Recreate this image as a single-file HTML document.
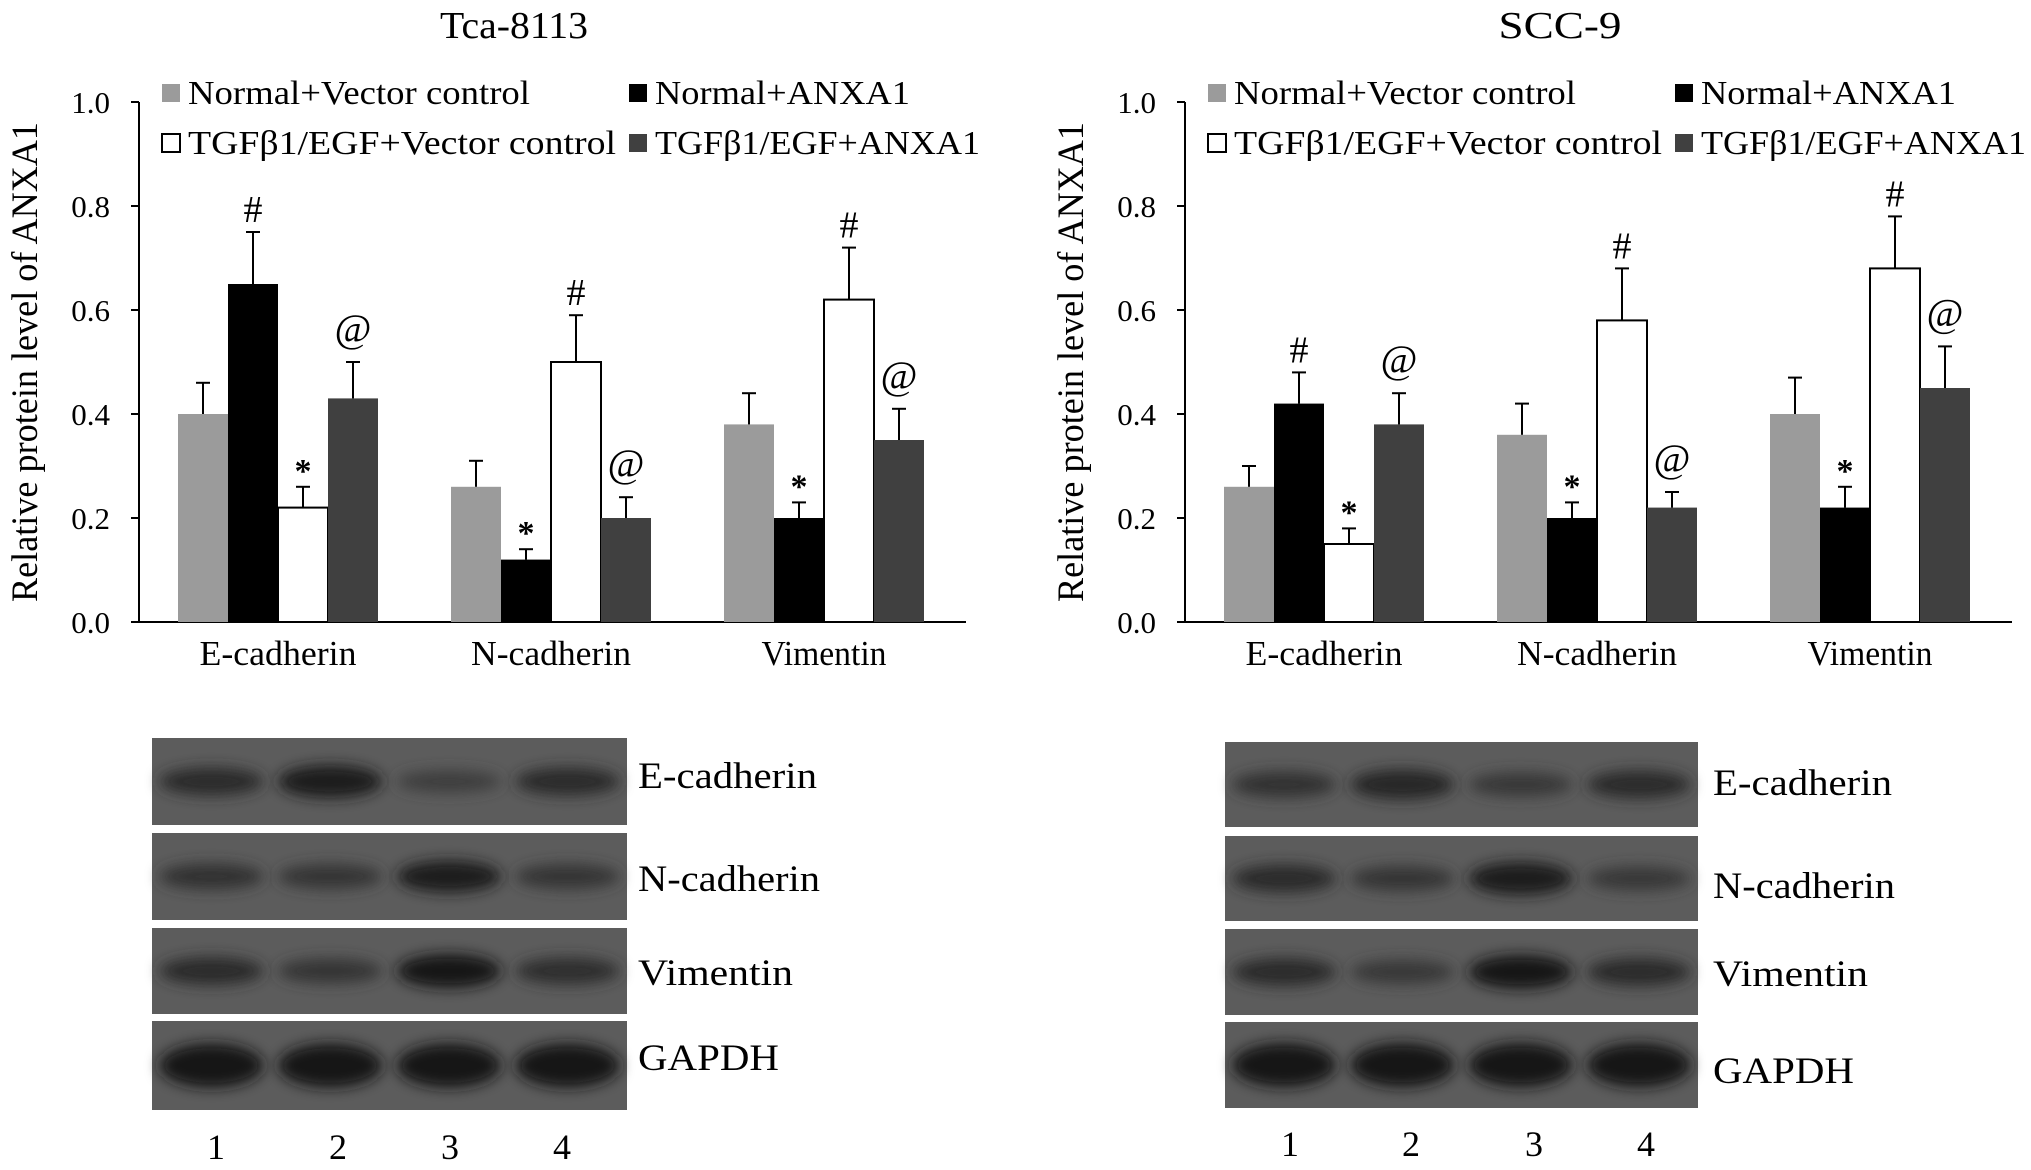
<!DOCTYPE html>
<html><head><meta charset="utf-8">
<style>
html,body{margin:0;padding:0;background:#fff;}
svg{display:block;font-family:"Liberation Serif","Times New Roman",serif;}
</style></head>
<body>
<svg id="fig" width="2031" height="1170" viewBox="0 0 2031 1170" xmlns="http://www.w3.org/2000/svg">
<defs>
<filter id="blur" x="-30%" y="-80%" width="160%" height="260%"><feGaussianBlur stdDeviation="7"/></filter>
</defs>
</svg>
<script>
const categories = ["E-cadherin","N-cadherin","Vimentin"];
const seriesNames = ["Normal+Vector control","Normal+ANXA1","TGFβ1/EGF+Vector control","TGFβ1/EGF+ANXA1"];
const tickLabels = ["0.0","0.2","0.4","0.6","0.8","1.0"];
const tickValues = [0,0.2,0.4,0.6,0.8,1.0];
// Tca-8113 values [category][series]
const tcaValues = [[0.40,0.65,0.22,0.43],[0.26,0.12,0.50,0.20],[0.38,0.20,0.62,0.35]];
const tcaErrors = [[0.06,0.10,0.04,0.07],[0.05,0.02,0.09,0.04],[0.06,0.03,0.10,0.06]];
// SCC-9 values
const sccValues = [[0.26,0.42,0.15,0.38],[0.36,0.20,0.58,0.22],[0.40,0.22,0.68,0.45]];
const sccErrors = [[0.04,0.06,0.03,0.06],[0.06,0.03,0.10,0.03],[0.07,0.04,0.10,0.08]];
const marks = [["","#","*","@"],["","*","#","@"],["","*","#","@"]];
const blotProteins = ["E-cadherin","N-cadherin","Vimentin","GAPDH"];
const laneLabels = ["1","2","3","4"];
// band intensities (0..1) [protein][lane]
const tcaBands = [[0.6,0.85,0.3,0.6],[0.5,0.45,0.8,0.45],[0.6,0.45,0.9,0.55],[1,1,1,1]];
const sccBands = [[0.5,0.7,0.4,0.6],[0.6,0.45,0.85,0.4],[0.6,0.4,0.9,0.6],[1,1,1,1]];

const NS="http://www.w3.org/2000/svg";
const svg=document.getElementById('fig');
function mk(tag,attrs,parent){const e=document.createElementNS(NS,tag);for(const k in attrs)e.setAttribute(k,attrs[k]);(parent||svg).appendChild(e);return e;}
const fills=["#9b9b9b","#000000","#ffffff","#404040"];
const catLen={"E-cadherin":157,"N-cadherin":160,"Vimentin":125};

function chart(ox,title,titleLen,values,errors,name){
  const g=mk('g',{});
  
  
  const x0=ox+139,x1=ox+966,yTop=102,yBot=622;
  const band=273, bw=50, pad=39;
  const y=v=>yBot-(v/1.0)*(yBot-yTop);
  const t=mk('text',{x:ox+514,y:38,'text-anchor':'middle','font-size':38,textLength:titleLen,lengthAdjust:'spacingAndGlyphs',fill:'#000'},g);t.textContent=title;
  
  
  const ya=mk('line',{x1:x0,y1:yTop,x2:x0,y2:yBot,stroke:'#000','stroke-width':2},g);
  
  
  const xa=mk('line',{x1:x0-8,y1:yBot,x2:x1,y2:yBot,stroke:'#000','stroke-width':2},g);
  
  
  tickValues.forEach((v,i)=>{
    mk('line',{x1:x0-8,y1:y(v),x2:x0,y2:y(v),stroke:'#000','stroke-width':2},g);
    const tl=mk('text',{x:ox+110,y:y(v)+11,'text-anchor':'end','font-size':31},g);tl.textContent=tickLabels[i];
    
    
  });
  const yl=mk('text',{x:0,y:0,'text-anchor':'middle','font-size':37,textLength:480,lengthAdjust:'spacingAndGlyphs',transform:`translate(${ox+37},362) rotate(-90)`},g);
  yl.textContent="Relative protein level of ANXA1";
  
  
  categories.forEach((c,ci)=>{
    const gx=x0+ci*band+pad;
    values[ci].forEach((v,si)=>{
      const bx=gx+si*bw;
      const r=mk('rect',{x:bx,y:y(v),width:bw,height:yBot-y(v),fill:fills[si],stroke:si===2?'#000':'none','stroke-width':2},g);
      
      
      const cx=bx+bw/2, et=y(v+errors[ci][si]);
      mk('line',{x1:cx,y1:y(v),x2:cx,y2:et,stroke:'#000','stroke-width':2},g);
      mk('line',{x1:cx-7,y1:et,x2:cx+7,y2:et,stroke:'#000','stroke-width':2},g);
      const m=marks[ci][si];
      if(m){
        let fs=38,yy=et-10,fw='normal';
        if(m==='*'){fs=34;yy=et-5;fw='bold';}
        if(m==='@'){fs=40;yy=et-20;}
        const mt=mk('text',{x:cx,y:yy,'text-anchor':'middle','font-size':fs,'font-weight':fw},g);
        mt.textContent=m;
        
        
      }
    });
    const cl=mk('text',{x:gx+2*bw,y:665,'text-anchor':'middle','font-size':35,textLength:catLen[c],lengthAdjust:'spacingAndGlyphs'},g);cl.textContent=c;
    
    
  });
  const lx=[ox+162,ox+629], ly=[93,143];
  seriesNames.forEach((s,i)=>{
    const col=i%2,row=Math.floor(i/2);
    const sq=mk('rect',{x:lx[col],y:ly[row]-9,width:18,height:18,fill:fills[i],stroke:i===2?'#000':'none','stroke-width':2},g);
    
    
    const lt=mk('text',{x:lx[col]+26,y:ly[row]+11,'font-size':34,textLength:(col===0?(row===0?342:428):(row===0?255:325)),lengthAdjust:'spacingAndGlyphs'},g);
    lt.textContent=s;
    
    
  });
}
chart(0,"Tca-8113",148,tcaValues,tcaErrors,"tca-8113-chart");
chart(1046,"SCC-9",123,sccValues,sccErrors,"scc-9-chart");

const blotLen=[179,182,155,141];
function blot(px0,px1,rows,labelX,labelYs,laneXs,laneY,bands,name){
  const g=mk('g',{});
  
  
  const w=px1-px0, lw=w/4;
  rows.forEach((r,ri)=>{
    const p=mk('rect',{x:px0,y:r[0],width:w,height:r[1]-r[0],fill:'#5c5c5c'},g);
    
    
    const cy=(r[0]+r[1])/2;
    bands[ri].forEach((b,li)=>{
      const cx=px0+lw*li+lw/2;
      const h=ri===3?22:(8+b*10);
      const c=Math.round(80-b*62);
      const e=mk('ellipse',{cx:cx,cy:cy,rx:lw*0.44,ry:h,fill:`rgb(${c},${c},${c})`,filter:'url(#blur)'},g);
      
      
    });
    const t=mk('text',{x:labelX,y:labelYs[ri]+13,'font-size':37,textLength:blotLen[ri],lengthAdjust:'spacingAndGlyphs'},g);t.textContent=blotProteins[ri];
    
    
  });
  laneLabels.forEach((l,i)=>{
    const t=mk('text',{x:laneXs[i],y:laneY+13,'text-anchor':'middle','font-size':36},g);t.textContent=l;
    
    
  });
}
blot(152,627,[[738,825],[833,920],[928,1014],[1021,1110]],638,[775,878,972,1057],[216,338,450,562],1146,tcaBands,"tca-8113-western-blot");
blot(1225,1698,[[742,827],[836,921],[929,1015],[1022,1108]],1713,[782,885,973,1070],[1290,1411,1534,1646],1143,sccBands,"scc-9-western-blot");
</script>
</body></html>
